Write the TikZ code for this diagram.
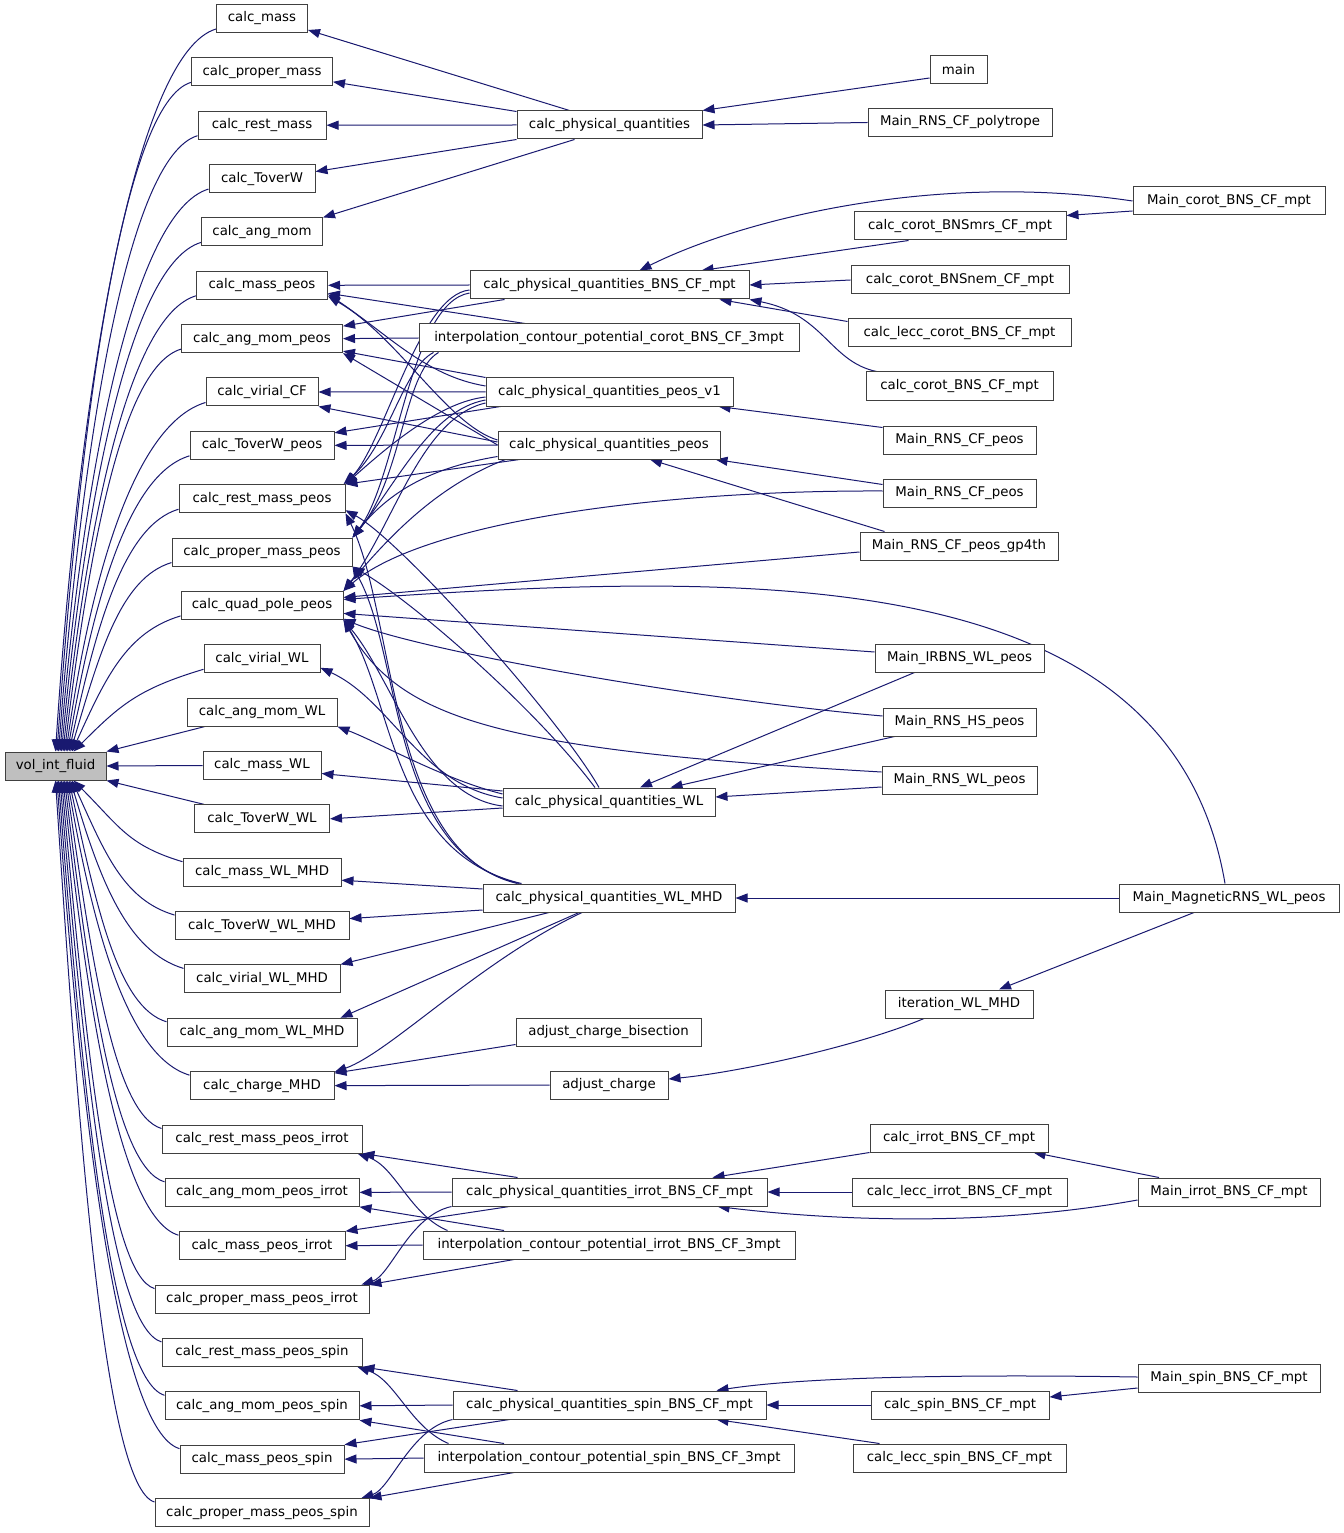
\documentclass[tikz,border=0pt]{standalone}
\usepackage{fontspec}
\setmainfont{DejaVu Sans}
\usetikzlibrary{arrows.meta,calc}
\pgfdeclarelayer{bg}
\pgfsetlayers{bg,main}
\definecolor{dblue}{HTML}{191970}
\definecolor{vgray}{HTML}{BFBFBF}
\tikzset{
  fn/.style={draw=black!75, line width=0.75pt, fill=white, minimum height=21pt,
    minimum width=#1*0.75pt, inner sep=0pt, font=\fontsize{10pt}{12pt}\selectfont},
  e/.style={draw=dblue, line width=0.75pt, -{Triangle[length=9pt,width=6.75pt]}},
}
\begin{document}
\begin{tikzpicture}[x=0.75pt,y=-0.75pt]
\useasboundingbox (0,0) rectangle (1344,1533);
% ---------- nodes ----------
\node[fn=101, fill=vgray] (v) at (55.5,766) {vol\_int\_fluid};
\foreach \i/\w/\t in {0/91/calc\_mass, 1/141/calc\_proper\_mass, 2/128/calc\_rest\_mass,
  3/106/calc\_ToverW, 4/121/calc\_ang\_mom, 5/131/calc\_mass\_peos, 6/161/calc\_ang\_mom\_peos,
  7/112/calc\_virial\_CF, 8/144/calc\_ToverW\_peos, 9/166/calc\_rest\_mass\_peos,
  10/180/calc\_proper\_mass\_peos, 11/162/calc\_quad\_pole\_peos, 12/116/calc\_virial\_WL,
  13/150/calc\_ang\_mom\_WL, 14/118/calc\_mass\_WL, 15/135/calc\_ToverW\_WL,
  16/158/calc\_mass\_WL\_MHD, 17/174/calc\_ToverW\_WL\_MHD, 18/156/calc\_virial\_WL\_MHD,
  19/190/calc\_ang\_mom\_WL\_MHD, 20/144/calc\_charge\_MHD, 21/200/calc\_rest\_mass\_peos\_irrot,
  22/194/calc\_ang\_mom\_peos\_irrot, 23/166/calc\_mass\_peos\_irrot,
  24/214/calc\_proper\_mass\_peos\_irrot, 25/200/calc\_rest\_mass\_peos\_spin,
  26/194/calc\_ang\_mom\_peos\_spin, 27/164/calc\_mass\_peos\_spin,
  28/214/calc\_proper\_mass\_peos\_spin}
  \node[fn=\w] (r\i) at (262,{18.5+53.357*\i}) {\t};
% column 3
\node[fn=185] (cpq) at (609.5,125) {calc\_physical\_quantities};
\node[fn=279] (B) at (609.5,285) {calc\_physical\_quantities\_BNS\_CF\_mpt};
\node[fn=380] (I) at (609,338) {interpolation\_contour\_potential\_corot\_BNS\_CF\_3mpt};
\node[fn=247] (V) at (609.5,392) {calc\_physical\_quantities\_peos\_v1};
\node[fn=222] (P) at (609,445) {calc\_physical\_quantities\_peos};
\node[fn=212] (W) at (609,802) {calc\_physical\_quantities\_WL};
\node[fn=252] (M) at (609,898) {calc\_physical\_quantities\_WL\_MHD};
\node[fn=185] (acb) at (608.5,1032) {adjust\_charge\_bisection};
\node[fn=118] (ac) at (609,1085) {adjust\_charge};
\node[fn=315] (Qi) at (609.5,1192) {calc\_physical\_quantities\_irrot\_BNS\_CF\_mpt};
\node[fn=372] (Ii) at (609,1245) {interpolation\_contour\_potential\_irrot\_BNS\_CF\_3mpt};
\node[fn=313] (Qs) at (609.5,1405) {calc\_physical\_quantities\_spin\_BNS\_CF\_mpt};
\node[fn=370] (Is) at (609,1458) {interpolation\_contour\_potential\_spin\_BNS\_CF\_3mpt};
% column 4
\node[fn=57] (mn) at (958.5,70) {main};
\node[fn=184] (poly) at (960,122.5) {Main\_RNS\_CF\_polytrope};
\node[fn=212] (mrs) at (960,226) {calc\_corot\_BNSmrs\_CF\_mpt};
\node[fn=218] (nem) at (960,280) {calc\_corot\_BNSnem\_CF\_mpt};
\node[fn=223] (lcc) at (959.5,333) {calc\_lecc\_corot\_BNS\_CF\_mpt};
\node[fn=187] (cor) at (959.5,386) {calc\_corot\_BNS\_CF\_mpt};
\node[fn=153] (rp1) at (959.5,440) {Main\_RNS\_CF\_peos};
\node[fn=153] (rp2) at (959.5,493) {Main\_RNS\_CF\_peos};
\node[fn=198] (gp) at (959,546) {Main\_RNS\_CF\_peos\_gp4th};
\node[fn=169] (irb) at (959.5,658) {Main\_IRBNS\_WL\_peos};
\node[fn=153] (hs) at (959.5,722) {Main\_RNS\_HS\_peos};
\node[fn=155] (rwl) at (959.5,780) {Main\_RNS\_WL\_peos};
\node[fn=148] (iter) at (959,1004) {iteration\_WL\_MHD};
\node[fn=178] (cir) at (959,1138) {calc\_irrot\_BNS\_CF\_mpt};
\node[fn=215] (lir) at (959.5,1192) {calc\_lecc\_irrot\_BNS\_CF\_mpt};
\node[fn=178] (csp) at (960,1405) {calc\_spin\_BNS\_CF\_mpt};
\node[fn=213] (lsp) at (959.5,1458) {calc\_lecc\_spin\_BNS\_CF\_mpt};
% column 5
\node[fn=192] (mco) at (1229,201) {Main\_corot\_BNS\_CF\_mpt};
\node[fn=220] (mag) at (1229,898) {Main\_MagneticRNS\_WL\_peos};
\node[fn=182] (mir) at (1229,1192) {Main\_irrot\_BNS\_CF\_mpt};
\node[fn=182] (msp) at (1229,1378) {Main\_spin\_BNS\_CF\_mpt};
% ---------- edges ----------
\begin{pgfonlayer}{bg}
\fill[white] (0,0) rectangle (1344,1533);
% fan into vol_int_fluid
\foreach \i/\a/\b/\c/\o in {0/80.5/23.8/366.5/51, 1/67.3/23.9/340/52.5, 2/69.5/24.1/313.5/54,
  3/74.3/24.3/287/55.5, 4/69.5/24.5/260/57, 5/66.8/24.8/233/58.5, 6/58.5/25.2/207/60,
  7/69.8/25.7/180/61.5, 8/61/26.5/153.5/63, 9/54.8/27.6/127/64.5, 10/50.5/29.4/100/66,
  11/54.3/33.4/73.5/67.5, 12/65/47/47/69}
  \draw[e] ($(r\i.south west)+(0,-4)$) .. controls +(-\a,{0.3*\a}) and +(\b,-\c) .. ($(v.north west)+(\o,0)$);
\foreach \i/\a/\b/\c/\o in {16/54.5/46/46/69, 17/51.3/33/72.5/67.5, 18/56.5/29.1/99/66,
  19/48.8/27.4/126/64.5, 20/61/26.3/152.5/63, 21/47.8/25.6/179/61.5, 22/50/25.1/206/60,
  23/57.8/24.7/232.5/58.5, 24/46.5/24.4/259/57, 25/50.8/24.2/286/55.5, 26/53/24/312.5/54,
  27/61.3/23.9/339/52.5, 28/49.5/23.8/366/51}
  \draw[e] ($(r\i.north west)+(0,4)$) .. controls +(-\a,{-0.3*\a}) and +(\b,\c) .. ($(v.south west)+(\o,0)$);
\draw[e] ($(r13.south west)+(18,0)$) -- (v.north east);
\draw[e] (r14.west) -- (v.east);
\draw[e] ($(r15.north west)+(10,0)$) -- (v.south east);
% calc_physical_quantities
\draw[e] ($(cpq.north)+(-40,0)$) -- ($(r0.south east)+(0,-3)$);
\draw[e] ($(cpq.north west)+(0,1)$) -- ($(r1.east)+(0,10)$);
\draw[e] (cpq.west) -- (r2.east);
\draw[e] (cpq.south west) -- ($(r3.east)+(0,-7)$);
\draw[e] ($(cpq.south)+(-35,0)$) -- (r4.north east);
\draw[e] ($(mn.west)+(0,8)$) -- (cpq.north east);
\draw[e] (poly.west) -- (cpq.east);
% BNS corot
\draw[e] (mco.west) .. controls +(-200,-30) and +(100,-50) .. ($(B.north)+(30,0)$);
\draw[e] ($(mco.west)+(0,10)$) -- ($(mrs.north east)+(0,4)$);
\draw[e] ($(mrs.south west)+(55,0)$) -- ($(B.north east)+(-48,0)$);
\draw[e] (nem.west) -- (B.east);
\draw[e] ($(lcc.north west)+(0,3)$) -- ($(B.south east)+(-30,0)$);
\draw[e] ($(cor.north west)+(11,0)$) .. controls +(-47,-10) and +(75,15) .. (B.south east);
% tangle (upper)
\draw[e] (B.west) -- (r5.east);
\draw[e] ($(I.north)+(-84,0)$) -- ($(r5.east)+(0,8)$);
\draw[e] ($(V.west)+(0,-6)$) .. controls +(-60,-10) and +(60,40) .. ($(r5.east)+(0,9)$);
\draw[e] ($(P.west)+(0,-5)$) .. controls +(-50,-15) and +(70,40) .. ($(r5.east)+(0,11)$);
\draw[e] ($(B.south west)+(35,0)$) -- ($(r6.north east)+(0,2)$);
\draw[e] (I.west) -- (r6.east);
\draw[e] (V.north west) -- ($(r6.south east)+(0,-2)$);
\draw[e] (P.west) -- (r6.south east);
\draw[e] (V.west) -- (r7.east);
\draw[e] ($(P.west)+(0,-3)$) -- (r7.south east);
\draw[e] (P.west) -- (r8.east);
\draw[e] ($(V.south west)+(15,0)$) -- ($(r8.north east)+(0,2)$);
\draw[e] ($(P.south west)+(22,0)$) -- (r9.north east);
\draw[e] ($(B.west)+(0,5)$) .. controls +(-50,5) and +(40,-45) .. (r9.north east);
\draw[e] ($(B.west)+(0,8)$) .. controls +(-60,10) and +(45,-60) .. (r10.north east);
\draw[e] ($(I.south west)+(15,0)$) .. controls +(-30,15) and +(45,-40) .. ($(r9.north east)+(-2,0)$);
\draw[e] ($(I.south west)+(20,0)$) .. controls +(-35,20) and +(50,-60) .. (r10.north east);
\draw[e] ($(V.west)+(0,5)$) .. controls +(-45,5) and +(45,-40) .. (r9.north east);
\draw[e] ($(V.west)+(0,8)$) .. controls +(-55,10) and +(45,-55) .. (r10.north east);
\draw[e] ($(V.west)+(0,11)$) .. controls +(-65,15) and +(50,-65) .. (r11.north east);
\draw[e] ($(P.south west)+(0,-3)$) .. controls +(-60,10) and +(40,-50) .. (r10.north east);
\draw[e] ($(P.south west)+(8,0)$) .. controls +(-65,25) and +(50,-60) .. (r11.north east);
% from below
\draw[e] ($(W.north)+(-10,0)$) .. controls +(-40,-70) and +(55,30) .. ($(r9.south east)+(0,-3)$);
\draw[e] ($(W.north)+(-14,0)$) .. controls +(-60,-80) and +(60,35) .. (r10.south east);
\draw[e] ($(W.west)+(0,4)$) .. controls +(-80,-10) and +(50,60) .. (r11.south east);
\draw[e] ($(M.north west)+(35,0)$) .. controls +(-130,-30) and +(50,100) .. (r9.south east);
\draw[e] ($(M.north west)+(37,0)$) .. controls +(-130,-30) and +(50,90) .. (r10.south east);
\draw[e] ($(M.north west)+(39,0)$) .. controls +(-130,-30) and +(50,80) .. (r11.south east);
% WL
\draw[e] ($(W.west)+(0,-4)$) .. controls +(-83,-14) and +(70,32) .. ($(r12.east)+(0,9)$);
\draw[e] ($(W.west)+(0,-8)$) .. controls +(-60,-15) and +(40,15) .. (r13.south east);
\draw[e] ($(W.west)+(0,-11)$) -- ($(r14.east)+(0,8)$);
\draw[e] ($(W.west)+(0,6)$) -- (r15.east);
\draw[e] ($(irb.south west)+(40,0)$) -- ($(W.north)+(31,0)$);
\draw[e] ($(hs.south west)+(12,0)$) -- ($(W.north east)+(-45,0)$);
\draw[e] ($(rwl.west)+(0,7)$) -- ($(W.east)+(0,-5)$);
% mains to quad pole
\draw[e] ($(rp2.west)+(0,-2)$) .. controls +(-233,-1) and +(77,-67) .. (r11.north east);
\draw[e] ($(gp.west)+(0,6)$) -- ($(r11.east)+(0,-8)$);
\draw[e] ($(irb.west)+(0,-6)$) -- ($(r11.east)+(0,8)$);
\draw[e] ($(hs.west)+(0,-6)$) .. controls +(-183,-16) and +(77,32) .. ($(r11.south east)+(0,-1)$);
\draw[e] ($(rwl.west)+(0,-8)$) .. controls +(-382,-22) and +(57,100) .. (r11.south east);
\draw[e] ($(mag.north)+(-4,0)$) .. controls +(-55,-324) and +(407,-28) .. ($(r11.east)+(0,-6)$);
\draw[e] ($(rp1.north west)+(0,2)$) -- ($(V.south east)+(-15,0)$);
\draw[e] ($(rp2.north west)+(0,6)$) -- ($(P.south east)+(-5,0)$);
\draw[e] ($(gp.north west)+(25,0)$) -- ($(P.south)+(41,0)$);
% MHD
\draw[e] (mag.west) -- (M.east);
\draw[e] ($(mag.south)+(-35,0)$) -- ($(iter.north)+(40,0)$);
\draw[e] ($(iter.south)+(-35,0)$) .. controls +(-64,27) and +(72,-7) .. ($(ac.east)+(0,-6)$);
\draw[e] ($(acb.south west)+(0,-2)$) -- ($(r20.north east)+(0,2)$);
\draw[e] (ac.west) -- (r20.east);
\draw[e] ($(M.west)+(0,-9)$) -- ($(r16.east)+(0,8)$);
\draw[e] ($(M.west)+(0,12)$) -- ($(r17.east)+(0,-7)$);
\draw[e] ($(M.south)+(-60,0)$) -- (r18.north east);
\draw[e] ($(M.south)+(-30,0)$) -- ($(r19.north east)+(-17,0)$);
\draw[e] ($(M.south)+(-27,0)$) .. controls +(-102,48) and +(56,-20) .. ($(r20.north east)+(0,1)$);
% irrot
\draw[e] ($(Qi.north)+(-92,0)$) -- (r21.south east);
\draw[e] ($(Ii.north west)+(25,0)$) .. controls +(-38,-16) and +(38,13) .. ($(r21.south east)+(-5,0)$);
\draw[e] (Qi.west) -- (r22.east);
\draw[e] ($(Ii.north)+(-105,0)$) -- (r22.south east);
\draw[e] ($(Qi.south)+(-100,0)$) -- (r23.north east);
\draw[e] (Ii.west) -- (r23.east);
\draw[e] (Qi.south west) .. controls +(-42,9) and +(29,-9) .. ($(r24.north east)+(-8,0)$);
\draw[e] ($(Ii.south)+(-95,0)$) -- (r24.north east);
\draw[e] (cir.south west) -- ($(Qi.north east)+(-55,0)$);
\draw[e] (lir.west) -- (Qi.east);
\draw[e] ($(mir.north)+(-70,0)$) -- ($(cir.south east)+(-15,0)$);
\draw[e] ($(mir.west)+(0,8)$) .. controls +(-138,25) and +(133,16) .. ($(Qi.south east)+(-50,0)$);
% spin
\draw[e] ($(Qs.north)+(-92,0)$) -- (r25.south east);
\draw[e] ($(Is.north west)+(25,0)$) .. controls +(-38,-16) and +(38,13) .. ($(r25.south east)+(-5,0)$);
\draw[e] (Qs.west) -- (r26.east);
\draw[e] ($(Is.north)+(-105,0)$) -- (r26.south east);
\draw[e] ($(Qs.south)+(-100,0)$) -- (r27.north east);
\draw[e] (Is.west) -- (r27.east);
\draw[e] (Qs.south west) .. controls +(-42,9) and +(29,-9) .. ($(r28.north east)+(-8,0)$);
\draw[e] ($(Is.south)+(-95,0)$) -- (r28.north east);
\draw[e] ($(msp.west)+(0,-1)$) .. controls +(-188,-3) and +(84,-13) .. ($(Qs.north east)+(-50,0)$);
\draw[e] ($(msp.west)+(0,10)$) -- ($(csp.east)+(0,-8)$);
\draw[e] (csp.west) -- (Qs.east);
\draw[e] ($(lsp.north west)+(27,0)$) -- ($(Qs.south east)+(-50,0)$);
\end{pgfonlayer}
\end{tikzpicture}
\end{document}
